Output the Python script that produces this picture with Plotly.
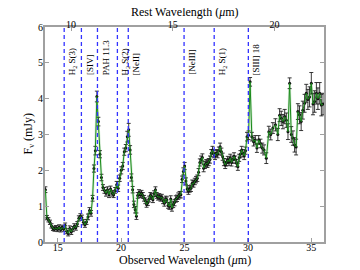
import plotly.graph_objects as go

# ---------------- data ----------------
obs_wave = [14.03, 14.15, 14.27, 14.39, 14.51, 14.63, 14.75, 14.87, 14.99, 15.11,
            15.23, 15.35, 15.47, 15.59, 15.71, 15.83, 15.95, 16.07, 16.19, 16.31,
            16.43, 16.55, 16.67, 16.79, 16.91, 17.03, 17.15, 17.27, 17.39, 17.51,
            17.63, 17.75, 17.86, 17.97, 18.09, 18.21, 18.33, 18.45, 18.57, 18.69,
            18.81, 18.93, 19.05, 19.17, 19.29, 19.41, 19.53, 19.65, 19.77, 19.89,
            20.01, 20.13, 20.25, 20.37, 20.49, 20.60, 20.71, 20.81, 20.91, 21.01,
            21.11, 21.21, 21.31, 21.41, 21.51, 21.61, 21.71, 21.81, 21.91, 22.01,
            22.11, 22.21, 22.31, 22.41, 22.51, 22.61, 22.71, 22.81, 22.91, 23.01,
            23.11, 23.21, 23.31, 23.41, 23.51, 23.61, 23.71, 23.81, 23.91, 24.01,
            24.11, 24.21, 24.31, 24.41, 24.51, 24.61, 24.71, 24.81, 24.91, 25.01,
            25.11, 25.21, 25.31, 25.41, 25.51, 25.61, 25.71, 25.81, 25.91, 26.01,
            26.11, 26.21, 26.31, 26.41, 26.51, 26.61, 26.71, 26.81, 26.91, 27.01,
            27.11, 27.21, 27.31, 27.41, 27.51, 27.61, 27.71, 27.81, 27.91, 28.01,
            28.11, 28.21, 28.31, 28.41, 28.51, 28.61, 28.71, 28.81, 28.91, 29.01,
            29.11, 29.21, 29.31, 29.41, 29.51, 29.61, 29.71, 29.81, 29.93, 30.05,
            30.17, 30.31, 30.45, 30.58, 30.71, 30.85, 30.99, 31.13, 31.27, 31.45,
            31.65, 31.80, 31.97, 32.17, 32.36, 32.50, 32.63, 32.76, 32.90, 33.03,
            33.16, 33.29, 33.42, 33.55, 33.68, 33.80, 33.94, 34.07, 34.20, 34.33,
            34.47, 34.60, 34.73, 34.86, 35.00, 35.13, 35.26, 35.40, 35.52, 35.66,
            35.79, 35.92]

flux_mjy = [1.46, 0.68, 0.62, 0.55, 0.45, 0.38, 0.36, 0.40, 0.35, 0.42,
            0.34, 0.41, 0.36, 0.46, 0.30, 0.24, 0.38, 0.28, 0.36, 0.44,
            0.40, 0.50, 0.66, 0.72, 0.68, 0.55, 0.48, 0.56, 0.70, 0.88,
            0.80, 1.22, 2.05, 2.55, 4.06, 3.36, 2.45, 1.80, 1.52, 1.44,
            1.36, 1.46, 1.32, 1.48, 1.36, 1.32, 1.44, 1.60, 1.50, 1.78,
            2.00, 2.12, 2.52, 2.62, 2.94, 3.13, 2.57, 1.80, 1.46, 1.05,
            0.90, 0.72, 1.30, 1.38, 1.32, 1.36, 1.30, 1.22, 1.15, 1.05,
            1.10, 1.20, 1.30, 1.27, 1.18, 1.35, 1.46, 1.30, 1.25, 1.27,
            1.22, 1.25, 1.15, 1.08, 1.20, 1.18, 1.02, 1.00, 1.20, 0.95,
            1.05, 1.10, 1.20, 1.22, 1.28, 1.32, 1.32, 1.75, 1.97, 2.12,
            1.70, 1.48, 1.42, 1.48, 1.50, 1.64, 1.62, 1.69, 1.74, 1.78,
            1.95, 2.22, 2.30, 2.36, 2.06, 2.15, 2.20, 2.18, 2.23, 2.30,
            2.48, 2.57, 2.45, 2.40, 2.48, 2.45, 2.55, 2.66, 2.52, 2.38,
            2.23, 2.15, 2.22, 2.29, 2.24, 2.35, 2.22, 2.30, 2.39, 2.30,
            2.20, 2.10, 2.35, 2.45, 2.57, 2.48, 2.40, 2.55, 2.94, 2.98,
            4.47, 2.94, 2.80, 2.85, 2.62, 2.85, 2.75, 2.62, 2.57, 2.34,
            3.08, 3.00, 3.18, 3.27, 3.00, 3.54, 3.45, 3.36, 3.50, 3.40,
            3.08, 4.43, 3.00, 2.90, 2.71, 2.65, 3.64, 3.55, 3.36, 3.68,
            3.87, 4.15, 3.98, 4.05, 4.43, 3.85, 3.92, 4.15, 4.00, 4.15,
            3.82, 3.85]

flux_err = [0.08, 0.06, 0.06, 0.06, 0.06, 0.06, 0.06, 0.06, 0.06, 0.06,
            0.06, 0.06, 0.06, 0.07, 0.07, 0.07, 0.07, 0.07, 0.07, 0.07,
            0.07, 0.07, 0.07, 0.07, 0.07, 0.07, 0.07, 0.07, 0.08, 0.08,
            0.08, 0.08, 0.10, 0.12, 0.15, 0.12, 0.10, 0.09, 0.08, 0.08,
            0.08, 0.08, 0.08, 0.08, 0.08, 0.08, 0.08, 0.09, 0.09, 0.09,
            0.10, 0.10, 0.10, 0.10, 0.15, 0.18, 0.12, 0.10, 0.09, 0.09,
            0.09, 0.09, 0.08, 0.08, 0.08, 0.08, 0.08, 0.08, 0.08, 0.08,
            0.08, 0.08, 0.08, 0.08, 0.08, 0.08, 0.08, 0.08, 0.08, 0.08,
            0.08, 0.08, 0.08, 0.08, 0.08, 0.08, 0.08, 0.09, 0.09, 0.09,
            0.09, 0.09, 0.09, 0.09, 0.09, 0.09, 0.09, 0.09, 0.10, 0.10,
            0.09, 0.09, 0.09, 0.09, 0.09, 0.09, 0.09, 0.09, 0.09, 0.09,
            0.10, 0.10, 0.10, 0.10, 0.10, 0.10, 0.10, 0.10, 0.10, 0.10,
            0.10, 0.10, 0.10, 0.10, 0.10, 0.10, 0.10, 0.10, 0.10, 0.10,
            0.10, 0.10, 0.10, 0.10, 0.10, 0.10, 0.10, 0.10, 0.10, 0.10,
            0.10, 0.10, 0.10, 0.10, 0.10, 0.10, 0.10, 0.10, 0.12, 0.12,
            0.12, 0.12, 0.12, 0.12, 0.12, 0.12, 0.12, 0.14, 0.14, 0.15,
            0.15, 0.15, 0.15, 0.17, 0.17, 0.18, 0.20, 0.20, 0.20, 0.20,
            0.22, 0.15, 0.22, 0.20, 0.20, 0.22, 0.22, 0.25, 0.25, 0.25,
            0.25, 0.25, 0.28, 0.28, 0.30, 0.30, 0.30, 0.30, 0.30, 0.30,
            0.30, 0.30]

redshift = 0.605
line_names = ["H<sub>2</sub> S(3)", "[SIV]", "PAH 11.3", "H<sub>2</sub> S(2)",
              "[NeII]", "[NeIII]", "H<sub>2</sub> S(1)", "[SIII] 18"]
line_rest = [9.665, 10.511, 11.30, 12.279, 12.814, 15.555, 17.035, 18.713]

x_range = [14, 36]
y_range = [0, 6]
y_ticks = [0, 1, 2, 3, 4, 5, 6]
x_ticks = [15, 20, 25, 30, 35]
rest_ticks = [10, 15, 20]
label_y = 4.6

# ---------------- figure ----------------
FONT = "Liberation Serif, Times New Roman, serif"
GRAY = "#a0a0a0"

# The page body has an 8px margin, so the figure is 8px smaller than the window
W, H = 352, 262
ML, MT = 37, 19
PW, PH = 279, 215
MR, MB = W - ML - PW, H - MT - PH

fig = go.Figure()

fig.add_trace(go.Scatter(
    x=obs_wave, y=flux_mjy, mode="lines",
    line=dict(color="rgba(60,170,60,0.22)", width=2.5),
    hoverinfo="skip", showlegend=False))

fig.add_trace(go.Scatter(
    x=obs_wave, y=flux_mjy, mode="markers",
    marker=dict(color="#111111", size=3),
    error_y=dict(type="data", array=flux_err, color="#222222",
                 thickness=0.9, width=2),
    showlegend=False))

fig.add_trace(go.Scatter(
    x=obs_wave, y=flux_mjy, mode="lines",
    line=dict(color="#1a8a1a", width=1),
    showlegend=False))

# invisible trace on rest-frame axis
fig.add_trace(go.Scatter(
    x=[w / (1 + redshift) for w in obs_wave], y=flux_mjy, xaxis="x2",
    mode="lines", line=dict(width=0), opacity=0, hoverinfo="skip",
    showlegend=False))

for name, rest in zip(line_names, line_rest):
    xo = rest * (1 + redshift)
    fig.add_shape(type="line", x0=xo, x1=xo, y0=y_range[0], y1=y_range[1],
                  xref="x", yref="y",
                  line=dict(color="#3333ff", width=1.3, dash="4px,3px"))
    fig.add_annotation(x=xo, y=label_y, text=name, textangle=-90,
                       xanchor="left", yanchor="bottom", showarrow=False,
                       xshift=1, font=dict(family=FONT, size=9, color="black"))

# axis titles as paper annotations for precise placement
fig.add_annotation(x=0.5, y=-18 / PH, xref="paper", yref="paper",
                   text="Observed Wavelength (<i>μ</i>m)", showarrow=False,
                   xanchor="center", yanchor="middle",
                   font=dict(family=FONT, size=12, color="black"))
fig.add_annotation(x=0.5, y=1 + 15 / PH, xref="paper", yref="paper",
                   text="Rest Wavelength (<i>μ</i>m)", showarrow=False,
                   xanchor="center", yanchor="middle",
                   font=dict(family=FONT, size=12, color="black"))
fig.add_annotation(x=-17 / PW, y=0.5, xref="paper", yref="paper",
                   text="F<sub>ν</sub> (mJy)", showarrow=False, textangle=-90,
                   xanchor="center", yanchor="middle",
                   font=dict(family=FONT, size=12, color="black"))

fig.update_layout(
    width=W, height=H,
    margin=dict(l=ML, r=MR, t=MT, b=MB, pad=0),
    paper_bgcolor="white", plot_bgcolor="white",
    font=dict(family=FONT, size=10, color="black"),
    xaxis=dict(range=x_range, tickvals=x_ticks, ticks="inside", ticklen=4,
               tickcolor=GRAY, showline=True, linecolor=GRAY, linewidth=2,
               mirror=True, showgrid=False, zeroline=False,
               tickfont=dict(size=10), ticklabelstandoff=-5,
               automargin=False),
    xaxis2=dict(range=[x_range[0] / (1 + redshift), x_range[1] / (1 + redshift)],
                overlaying="x", side="top", tickvals=rest_ticks,
                ticks="inside", ticklen=4, tickcolor=GRAY,
                showline=False, showgrid=False, zeroline=False,
                tickfont=dict(size=10), ticklabelstandoff=-4,
                automargin=False),
    yaxis=dict(range=y_range, tickvals=y_ticks, ticks="inside", ticklen=4,
               tickcolor=GRAY, showline=True, linecolor=GRAY, linewidth=2,
               mirror="ticks", showgrid=False, zeroline=False,
               tickfont=dict(size=10), ticklabelstandoff=-2,
               automargin=False),
)

fig.write_html("out.html")
